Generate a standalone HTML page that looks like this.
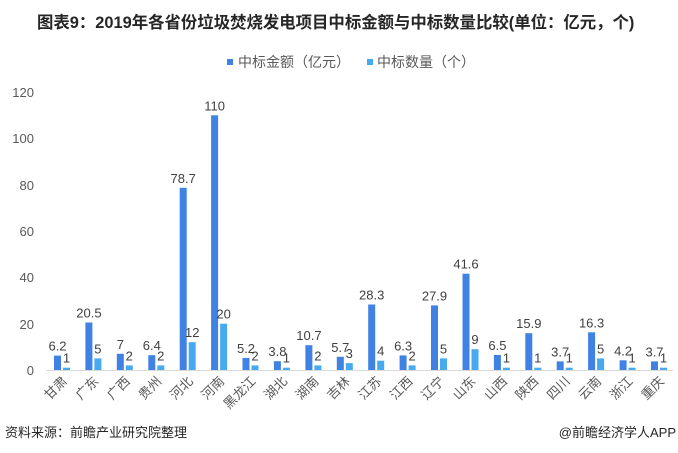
<!DOCTYPE html>
<html><head><meta charset="utf-8"><style>
html,body{margin:0;padding:0;background:#fff;}
svg{display:block;font-family:"Liberation Sans","Noto Sans CJK SC",sans-serif;}
.d{fill:#3f82e4}.l{fill:#47aaf0}
.v{font-size:13px;fill:#404040;text-anchor:middle}
.c{font-size:13px;fill:#595959;text-anchor:end}
</style></head><body>
<svg width="678" height="453" xmlns="http://www.w3.org/2000/svg">
<text x="37" y="28" font-size="16.4" font-weight="bold" fill="#262626">图表9：2019年各省份垃圾焚烧发电项目中标金额与中标数量比较(单位：亿元，个)</text>
<rect x="227" y="59" width="6" height="6" fill="#3f82e4"/>
<text x="238" y="67" font-size="14" fill="#595959">中标金额（亿元）</text>
<rect x="367" y="59" width="6" height="6" fill="#47aaf0"/>
<text x="377" y="67" font-size="14" fill="#595959">中标数量（个）</text>
<g font-size="13" fill="#595959" text-anchor="end">
<text x="34" y="97">120</text><text x="34" y="143">100</text><text x="34" y="190">80</text>
<text x="34" y="236">60</text><text x="34" y="282">40</text><text x="34" y="329">20</text><text x="34" y="375">0</text>
</g>
<line x1="46" y1="370.5" x2="673" y2="370.5" stroke="#d9d9d9" stroke-width="1"/>

<g transform="translate(54,0)"><rect class="d" x="0" y="355.6" width="7" height="14.4"/><rect class="l" x="9" y="367.7" width="7" height="2.3"/><text class="v" x="3.5" y="350.6">6.2</text><text class="v" x="12.5" y="362.7">1</text><text class="c" transform="translate(14,382) rotate(-45)">甘肃</text></g>
<g transform="translate(85.4,0)"><rect class="d" x="0" y="322.5" width="7" height="47.5"/><rect class="l" x="9" y="358.4" width="7" height="11.6"/><text class="v" x="3.5" y="317.5">20.5</text><text class="v" x="12.5" y="353.4">5</text><text class="c" transform="translate(14,382) rotate(-45)">广东</text></g>
<g transform="translate(116.8,0)"><rect class="d" x="0" y="353.8" width="7" height="16.2"/><rect class="l" x="9" y="365.4" width="7" height="4.6"/><text class="v" x="3.5" y="348.8">7</text><text class="v" x="12.5" y="360.4">2</text><text class="c" transform="translate(14,382) rotate(-45)">广西</text></g>
<g transform="translate(148.3,0)"><rect class="d" x="0" y="355.2" width="7" height="14.8"/><rect class="l" x="9" y="365.4" width="7" height="4.6"/><text class="v" x="3.5" y="350.2">6.4</text><text class="v" x="12.5" y="360.4">2</text><text class="c" transform="translate(14,382) rotate(-45)">贵州</text></g>
<g transform="translate(179.7,0)"><rect class="d" x="0" y="187.8" width="7" height="182.2"/><rect class="l" x="9" y="342.2" width="7" height="27.8"/><text class="v" x="3.5" y="182.8">78.7</text><text class="v" x="12.5" y="337.2">12</text><text class="c" transform="translate(14,382) rotate(-45)">河北</text></g>
<g transform="translate(211.1,0)"><rect class="d" x="0" y="115.3" width="7" height="254.7"/><rect class="l" x="9" y="323.7" width="7" height="46.3"/><text class="v" x="3.5" y="110.3">110</text><text class="v" x="12.5" y="318.7">20</text><text class="c" transform="translate(14,382) rotate(-45)">河南</text></g>
<g transform="translate(242.5,0)"><rect class="d" x="0" y="358" width="7" height="12"/><rect class="l" x="9" y="365.4" width="7" height="4.6"/><text class="v" x="3.5" y="353">5.2</text><text class="v" x="12.5" y="360.4">2</text><text class="c" transform="translate(14,382) rotate(-45)">黑龙江</text></g>
<g transform="translate(273.9,0)"><rect class="d" x="0" y="361.2" width="7" height="8.8"/><rect class="l" x="9" y="367.7" width="7" height="2.3"/><text class="v" x="3.5" y="356.2">3.8</text><text class="v" x="12.5" y="362.7">1</text><text class="c" transform="translate(14,382) rotate(-45)">湖北</text></g>
<g transform="translate(305.4,0)"><rect class="d" x="0" y="345.2" width="7" height="24.8"/><rect class="l" x="9" y="365.4" width="7" height="4.6"/><text class="v" x="3.5" y="340.2">10.7</text><text class="v" x="12.5" y="360.4">2</text><text class="c" transform="translate(14,382) rotate(-45)">湖南</text></g>
<g transform="translate(336.8,0)"><rect class="d" x="0" y="356.8" width="7" height="13.2"/><rect class="l" x="9" y="363.1" width="7" height="6.9"/><text class="v" x="3.5" y="351.8">5.7</text><text class="v" x="12.5" y="358.1">3</text><text class="c" transform="translate(14,382) rotate(-45)">吉林</text></g>
<g transform="translate(368.2,0)"><rect class="d" x="0" y="304.5" width="7" height="65.5"/><rect class="l" x="9" y="360.7" width="7" height="9.3"/><text class="v" x="3.5" y="299.5">28.3</text><text class="v" x="12.5" y="355.7">4</text><text class="c" transform="translate(14,382) rotate(-45)">江苏</text></g>
<g transform="translate(399.6,0)"><rect class="d" x="0" y="355.4" width="7" height="14.6"/><rect class="l" x="9" y="365.4" width="7" height="4.6"/><text class="v" x="3.5" y="350.4">6.3</text><text class="v" x="12.5" y="360.4">2</text><text class="c" transform="translate(14,382) rotate(-45)">江西</text></g>
<g transform="translate(431,0)"><rect class="d" x="0" y="305.4" width="7" height="64.6"/><rect class="l" x="9" y="358.4" width="7" height="11.6"/><text class="v" x="3.5" y="300.4">27.9</text><text class="v" x="12.5" y="353.4">5</text><text class="c" transform="translate(14,382) rotate(-45)">辽宁</text></g>
<g transform="translate(462.5,0)"><rect class="d" x="0" y="273.7" width="7" height="96.3"/><rect class="l" x="9" y="349.2" width="7" height="20.8"/><text class="v" x="3.5" y="268.7">41.6</text><text class="v" x="12.5" y="344.2">9</text><text class="c" transform="translate(14,382) rotate(-45)">山东</text></g>
<g transform="translate(493.9,0)"><rect class="d" x="0" y="355" width="7" height="15"/><rect class="l" x="9" y="367.7" width="7" height="2.3"/><text class="v" x="3.5" y="350">6.5</text><text class="v" x="12.5" y="362.7">1</text><text class="c" transform="translate(14,382) rotate(-45)">山西</text></g>
<g transform="translate(525.3,0)"><rect class="d" x="0" y="333.2" width="7" height="36.8"/><rect class="l" x="9" y="367.7" width="7" height="2.3"/><text class="v" x="3.5" y="328.2">15.9</text><text class="v" x="12.5" y="362.7">1</text><text class="c" transform="translate(14,382) rotate(-45)">陕西</text></g>
<g transform="translate(556.7,0)"><rect class="d" x="0" y="361.4" width="7" height="8.6"/><rect class="l" x="9" y="367.7" width="7" height="2.3"/><text class="v" x="3.5" y="356.4">3.7</text><text class="v" x="12.5" y="362.7">1</text><text class="c" transform="translate(14,382) rotate(-45)">四川</text></g>
<g transform="translate(588.1,0)"><rect class="d" x="0" y="332.3" width="7" height="37.7"/><rect class="l" x="9" y="358.4" width="7" height="11.6"/><text class="v" x="3.5" y="327.3">16.3</text><text class="v" x="12.5" y="353.4">5</text><text class="c" transform="translate(14,382) rotate(-45)">云南</text></g>
<g transform="translate(619.6,0)"><rect class="d" x="0" y="360.3" width="7" height="9.7"/><rect class="l" x="9" y="367.7" width="7" height="2.3"/><text class="v" x="3.5" y="355.3">4.2</text><text class="v" x="12.5" y="362.7">1</text><text class="c" transform="translate(14,382) rotate(-45)">浙江</text></g>
<g transform="translate(651,0)"><rect class="d" x="0" y="361.4" width="7" height="8.6"/><rect class="l" x="9" y="367.7" width="7" height="2.3"/><text class="v" x="3.5" y="356.4">3.7</text><text class="v" x="12.5" y="362.7">1</text><text class="c" transform="translate(14,382) rotate(-45)">重庆</text></g>

<text x="5" y="437" font-size="13" fill="#262626">资料来源：前瞻产业研究院整理</text>
<text x="676" y="437" font-size="13" fill="#262626" text-anchor="end">@前瞻经济学人APP</text>
</svg>
</body></html>
